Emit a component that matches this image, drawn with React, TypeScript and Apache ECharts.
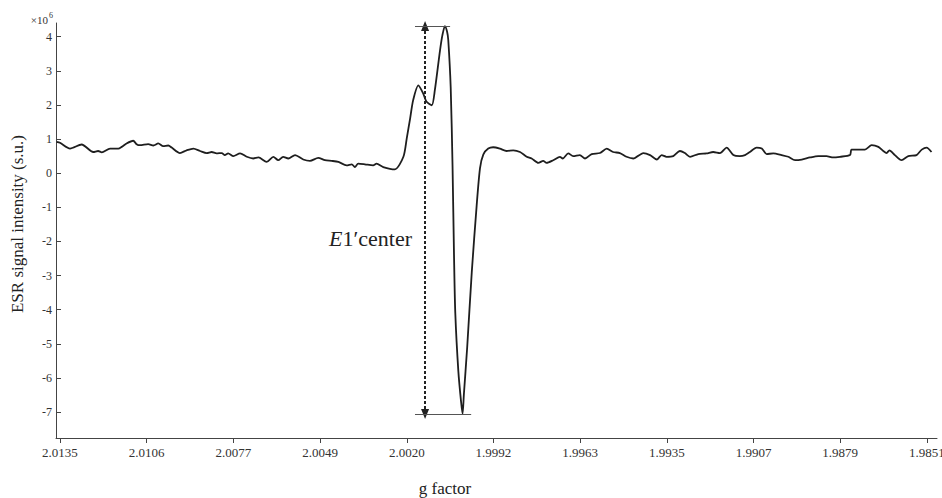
import React, { useEffect, useRef } from "react";
import * as echarts from "echarts";

const FONT = "Liberation Serif";

// g factor tick positions (evenly spaced) and their printed labels
const xTickValues = [2.0135, 2.01066, 2.00782, 2.00498, 2.00214, 1.9993, 1.99646, 1.99362, 1.99078, 1.98794, 1.9851];
const xTickLabels = ["2.0135", "2.0106", "2.0077", "2.0049", "2.0020", "1.9992", "1.9963", "1.9935", "1.9907", "1.9879", "1.9851"];
const yTickValues = [-7, -6, -5, -4, -3, -2, -1, 0, 1, 2, 3, 4];

// spectrum: g factor and ESR intensity (x10^6 s.u.)
const gFactor = [
  2.01361, 2.0135, 2.01317, 2.01279, 2.01241, 2.01225, 2.01213, 2.01186, 2.01159, 2.01148,
  2.01132, 2.0111, 2.01099, 2.01088, 2.01061, 2.01044, 2.01028, 2.01012, 2.00995, 2.00984,
  2.00957, 2.00935, 2.00913, 2.00891, 2.00869, 2.00853, 2.00837, 2.0082, 2.0081, 2.00799,
  2.00782, 2.0076, 2.00738, 2.00717, 2.007, 2.00673, 2.00651, 2.00635, 2.00619, 2.00602,
  2.0058, 2.00553, 2.00531, 2.00504, 2.00482, 2.0046, 2.00438, 2.00411, 2.00394, 2.00384,
  2.00373, 2.00351, 2.00324, 2.00313, 2.00291, 2.00253, 2.00225, 2.00214, 2.00203, 2.00193,
  2.00176, 2.0016, 2.00149, 2.00132, 2.00122, 2.00105, 2.00097, 2.00089, 2.00082, 2.00078,
  2.0007, 2.00064, 2.00059, 2.00055, 2.00045, 2.00036, 2.00031, 2.00027, 2.00016, 2.00001,
  1.99985, 1.99974, 1.99963, 1.99947, 1.99931, 1.99909, 1.99887, 1.99865, 1.99843, 1.99821,
  1.99805, 1.99783, 1.99767, 1.99756, 1.99734, 1.99712, 1.99703, 1.99685, 1.99669, 1.99647,
  1.9963, 1.99608, 1.99581, 1.99559, 1.99538, 1.99516, 1.99494, 1.99472, 1.99439, 1.99417,
  1.99395, 1.99379, 1.99363, 1.99341, 1.99319, 1.99303, 1.99286, 1.99259, 1.99232, 1.9921,
  1.99188, 1.99166, 1.99144, 1.99123, 1.99106, 1.9909, 1.99068, 1.99051, 1.99035, 1.99013,
  1.98986, 1.98964, 1.98942, 1.9892, 1.98893, 1.98866, 1.98839, 1.98817, 1.98795, 1.98762,
  1.98757, 1.98735, 1.98713, 1.98691, 1.98669, 1.98653, 1.98642, 1.98633, 1.98615, 1.98593,
  1.98571, 1.98544, 1.98527, 1.98511, 1.98495,
];
const intensity = [
  0.92, 0.89, 0.72, 0.84, 0.62, 0.65, 0.61, 0.72, 0.72, 0.77,
  0.87, 0.95, 0.85, 0.82, 0.85, 0.81, 0.87, 0.79, 0.81, 0.75,
  0.59, 0.67, 0.72, 0.65, 0.59, 0.62, 0.58, 0.59, 0.53, 0.58,
  0.5, 0.58, 0.48, 0.43, 0.46, 0.33, 0.48, 0.38, 0.48, 0.43,
  0.53, 0.4, 0.36, 0.45, 0.38, 0.36, 0.33, 0.23, 0.26, 0.18,
  0.28, 0.26, 0.23, 0.28, 0.18, 0.11, 0.48, 1.02, 1.6, 2.14,
  2.57, 2.33, 2.09, 1.99, 2.43, 3.6, 4.05, 4.31, 4.15, 3.9,
  2.5, 0.2, -2.5, -4.1, -5.8, -6.7, -7.05, -6.5, -5.1, -2.9,
  -0.95, 0.15, 0.55, 0.72, 0.76, 0.72, 0.65, 0.67, 0.62, 0.48,
  0.43, 0.3, 0.36, 0.3, 0.38, 0.48, 0.43, 0.58, 0.5, 0.53,
  0.43, 0.56, 0.59, 0.72, 0.62, 0.59, 0.48, 0.43, 0.59, 0.53,
  0.4, 0.53, 0.48, 0.5, 0.65, 0.59, 0.48, 0.56, 0.58, 0.62,
  0.59, 0.75, 0.53, 0.5, 0.53, 0.62, 0.75, 0.72, 0.56, 0.58,
  0.53, 0.48, 0.38, 0.4, 0.46, 0.5, 0.5, 0.46, 0.48, 0.53,
  0.69, 0.69, 0.69, 0.82, 0.77, 0.65, 0.59, 0.67, 0.53, 0.38,
  0.5, 0.53, 0.69, 0.75, 0.62,
];

// annotation: arrow between the maximum and minimum of the E1' signal
const arrowG = 2.00154;
const arrowTop = 4.31;
const arrowBottom = -7.06;
const topBarG = [2.00187, 2.00072];
const bottomBarG = [2.00187, 2.00003];

const W = 942;
const H = 498;

export default function App() {
  const ref = useRef<HTMLDivElement>(null);

  useEffect(() => {
    if (!ref.current) return;
    const chart = echarts.init(ref.current, undefined, { renderer: "svg", width: W, height: H });
    const data = gFactor.map((g, i) => [g, intensity[i]]);
    const axisColor = "#444";
    const dashStyle = { color: "#222", width: 2, type: [3, 2] };
    const barStyle = { color: "#555", width: 1.2, type: "solid" };

    chart.setOption({
      animation: false,
      textStyle: { fontFamily: FONT },
      grid: { left: 56, right: 5, top: 23, bottom: 60, containLabel: false, outerBoundsMode: "none" },
      xAxis: {
        type: "value",
        inverse: true,
        min: 1.98477,
        max: 2.01363,
        axisLine: { show: true, onZero: false, lineStyle: { color: axisColor, width: 1 } },
        axisTick: { show: true, inside: false, length: 5, customValues: xTickValues, lineStyle: { color: axisColor } },
        axisLabel: {
          customValues: xTickValues,
          margin: 8,
          fontFamily: FONT,
          fontSize: 13,
          color: "#333",
          hideOverlap: false,
          formatter: (v: number) => {
            const i = xTickValues.findIndex((t) => Math.abs(t - v) < 1e-6);
            return i >= 0 ? xTickLabels[i] : "";
          },
        },
        splitLine: { show: false },
      },
      yAxis: {
        type: "value",
        min: -7.76,
        max: 4.4,
        axisLine: { show: true, onZero: false, lineStyle: { color: axisColor, width: 1 } },
        axisTick: { show: true, inside: true, length: 5, customValues: yTickValues, lineStyle: { color: axisColor } },
        axisLabel: {
          customValues: yTickValues,
          margin: 4,
          fontFamily: FONT,
          fontSize: 12,
          color: "#333",
          formatter: (v: number) => String(Math.round(v)),
        },
        splitLine: { show: false },
      },
      series: [
        {
          type: "line",
          data,
          showSymbol: false,
          symbol: "none",
          smooth: 0.25,
          lineStyle: { color: "#1e1e1e", width: 1.8 },
          markLine: {
            silent: true,
            symbol: ["none", "none"],
            label: { show: false },
            emphasis: { disabled: true },
            data: [
              [
                { coord: [arrowG, arrowTop], symbol: "triangle", symbolSize: [8, 10], lineStyle: dashStyle },
                { coord: [arrowG, arrowBottom], symbol: "triangle", symbolSize: [8, 10] },
              ],
              [
                { coord: [topBarG[0], arrowTop], lineStyle: barStyle },
                { coord: [topBarG[1], arrowTop] },
              ],
              [
                { coord: [bottomBarG[0], arrowBottom], lineStyle: barStyle },
                { coord: [bottomBarG[1], arrowBottom] },
              ],
            ],
          },
        },
      ],
      graphic: [
        {
          type: "text",
          x: 48,
          y: 20,
          style: { text: "×10", fontFamily: FONT, fontSize: 11, fill: "#333", align: "right", verticalAlign: "middle" },
        },
        {
          type: "text",
          x: 49,
          y: 15,
          style: { text: "6", fontFamily: FONT, fontSize: 8, fill: "#333", align: "left", verticalAlign: "middle" },
        },
        {
          type: "text",
          x: 17,
          y: 224,
          rotation: Math.PI / 2,
          style: {
            text: "ESR signal intensity (s.u.)",
            fontFamily: FONT,
            fontSize: 17,
            fill: "#222",
            align: "center",
            verticalAlign: "middle",
          },
        },
        {
          type: "text",
          x: 445,
          y: 488,
          style: { text: "g factor", fontFamily: FONT, fontSize: 17, fill: "#222", align: "center", verticalAlign: "middle" },
        },
        {
          type: "text",
          x: 412,
          y: 238,
          style: {
            text: "{i|E}1′center",
            fontFamily: FONT,
            fontSize: 22,
            fill: "#222",
            align: "right",
            verticalAlign: "middle",
            rich: {
              i: { fontFamily: FONT, fontSize: 22, fontStyle: "italic", fill: "#222" },
            },
          },
        },
      ],
    });

    return () => chart.dispose();
  }, []);

  return <div ref={ref} style={{ position: "absolute", left: 0, top: 0, width: W, height: H }} />;
}
